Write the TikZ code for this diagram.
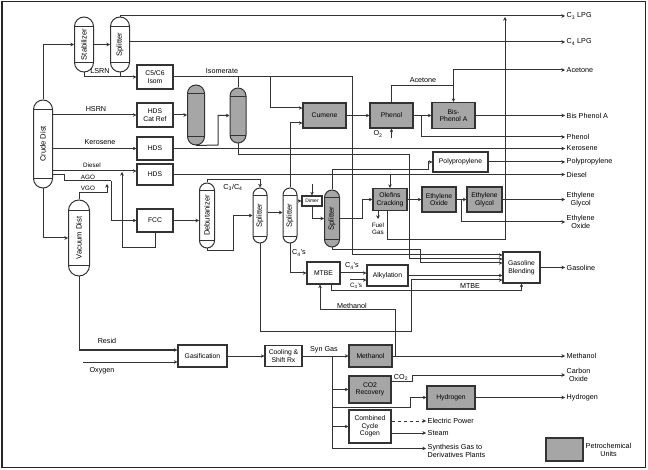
\documentclass[tikz,border=0pt]{standalone}
\usepackage{fontspec}
\usepackage{graphicx}
\setmainfont{Liberation Sans}
\usetikzlibrary{arrows.meta,calc}

% vessel: name, centre x, top y, bottom y, width, fill, label
\newcommand\vsl[7]{%
  \node[vessel, fill=#6, rounded corners={#5*0.5pt}, minimum width=#5pt,
        minimum height={(#4-#3)*1pt}, inner sep=0pt] (#1) at (#2,{(#3+#4)/2}) {\rotatebox{90}{#7}};
  \draw[black!80, line width=0.5pt] ({#2-#5/2},{#3+#5/2}) -- ({#2+#5/2},{#3+#5/2})
        ({#2-#5/2},{#4-#5/2}) -- ({#2+#5/2},{#4-#5/2});
}

\begin{document}
\begin{tikzpicture}[x=1pt,y=-1pt,
  font=\fontsize{7.2}{8}\selectfont,
  flow/.style={draw=black!80, line width=1pt},
  arr/.style={flow,-{Stealth[length=3.6pt,width=3.6pt]}},
  unit/.style={draw=black!80, line width=1.1pt, fill=white, align=center, inner sep=1pt,
               font=\fontsize{6.8}{7.6}\selectfont},
  petro/.style={unit, fill=black!35},
  vessel/.style={draw=black!80, line width=1pt, font=\fontsize{7.6}{8}\selectfont},
  outlbl/.style={anchor=west, align=center, inner sep=1.5pt},
  lbl/.style={inner sep=0.5pt, align=center},
  small/.style={lbl, font=\fontsize{6.3}{7}\selectfont},
]
\useasboundingbox (0,0) rectangle (648,470);
\draw[line width=1.3pt, black!85] (2,1.5) rectangle (645.5,467.5);

% ---------- columns ----------
\vsl{stab}{84}{17}{72}{19}{white}{Stabilizer}
\vsl{split}{120}{17}{72}{19}{white}{Splitter}
\vsl{crude}{43}{100}{188}{19}{white}{Crude Dist}
\vsl{vac}{79}{200}{276}{21}{white}{Vacuum Dist}
\vsl{va}{196}{85}{145}{17}{black!35}{}
\vsl{vb}{238}{88}{143}{16}{black!35}{}
\vsl{d1}{207}{183}{248}{15}{white}{Debutanizer}
\vsl{s1}{260}{188}{243}{14}{white}{Splitter}
\vsl{s2}{290}{188}{243}{14}{white}{Splitter}
\vsl{g1}{332}{190}{247}{15}{black!35}{Splitter}

% ---------- process units ----------
\node[unit, minimum width=36pt, minimum height=24pt] (isom)  at (155,77)    {C5/C6\\Isom};
\node[unit, minimum width=36pt, minimum height=24pt] (hdscr) at (155,115)   {HDS\\Cat Ref};
\node[unit, minimum width=36pt, minimum height=23pt] (hdsk)  at (155,148.5) {HDS};
\node[unit, minimum width=36pt, minimum height=21pt] (hdsd)  at (155,174.5) {HDS};
\node[unit, minimum width=36pt, minimum height=23pt] (fcc)   at (155,220.5) {FCC};
\node[petro, minimum width=43pt, minimum height=25pt] (cumene) at (324.5,115.5) {Cumene};
\node[petro, minimum width=43pt, minimum height=25pt] (phenol) at (391.5,115.5) {Phenol};
\node[petro, minimum width=43pt, minimum height=26pt] (bpa)    at (453.5,115.5) {Bis-\\Phenol A};
\node[unit, minimum width=55pt, minimum height=20pt] (pp)     at (460.5,162)   {Polypropylene};
\node[petro, minimum width=34pt, minimum height=22pt] (olef)   at (390,199.5)   {Olefins\\Cracking};
\node[petro, minimum width=34pt, minimum height=25pt] (eo)     at (439,199.5)   {Ethylene\\Oxide};
\node[petro, minimum width=35pt, minimum height=25pt] (eg)     at (484.5,199.5) {Ethylene\\Glycol};
\node[unit, minimum width=20pt, minimum height=10pt, font=\fontsize{5}{5.5}\selectfont] (sb) at (312,201) {Dimer};
\node[unit, minimum width=33pt, minimum height=22pt] (mtbe)   at (323.5,273)   {MTBE};
\node[unit, minimum width=41pt, minimum height=21pt] (alky)   at (387.5,275.5) {Alkylation};
\node[unit, minimum width=37pt, minimum height=31pt] (gb)     at (521.5,267.5) {Gasoline\\Blending};
\node[unit, minimum width=49pt, minimum height=22pt] (gasif)  at (202.5,356)   {Gasification};
\node[unit, minimum width=37pt, minimum height=21pt] (cool)   at (283.5,356)   {Cooling \&\\Shift Rx};
\node[petro, minimum width=43pt, minimum height=22pt] (meth)   at (370.5,356)   {Methanol};
\node[petro, minimum width=42pt, minimum height=27pt] (co2)    at (370,389.5)   {CO2\\Recovery};
\node[petro, minimum width=48pt, minimum height=23pt] (hyd)    at (451,397.5)   {Hydrogen};
\node[unit, minimum width=42pt, minimum height=33pt] (ccc)    at (370,426.5)   {Combined\\Cycle\\Cogen};

% ---------- product labels ----------
\node[outlbl] (oc3)  at (565,16)    {C\textsubscript{3} LPG};
\node[outlbl] (oc4)  at (565,42)    {C\textsubscript{4} LPG};
\node[outlbl] (oace) at (565,70)    {Acetone};
\node[outlbl] (obpa) at (565,115.5) {Bis Phenol A};
\node[outlbl] (ophe) at (565,137)   {Phenol};
\node[outlbl] (oker) at (565,148.5) {Kerosene};
\node[outlbl] (opp)  at (565,162)   {Polypropylene};
\node[outlbl] (odie) at (565,174.5) {Diesel};
\node[outlbl] (oeg)  at (565,199.5) {Ethylene\\Glycol};
\node[outlbl] (oeo)  at (565,222)   {Ethylene\\Oxide};
\node[outlbl] (ogas) at (565,267.5) {Gasoline};
\node[outlbl] (ometh) at (565,356)  {Methanol};
\node[outlbl] (oco)  at (565,375)   {Carbon\\Oxide};
\node[outlbl] (ohyd) at (565,397.5) {Hydrogen};
\node[outlbl, align=left] (oep)  at (426,421)   {Electric Power};
\node[outlbl, align=left] (ost)  at (426,433)   {Steam};
\node[outlbl, anchor=north west, align=left] (osg) at (426,443) {Synthesis Gas to\\Derivatives Plants};
\coordinate (osgin) at (426,448.5);

% ---------- stream labels ----------
\node[lbl] (lsrn) at (100,71)  {LSRN};
\node[lbl] (lisom) at (222,71) {Isomerate};
\node[lbl] (lhsrn) at (96,109) {HSRN};
\node[lbl] (lker) at (100,142) {Kerosene};
\node[small] (ldie) at (92,165.5)  {Diesel};
\node[small] (lago) at (88,177.8) {AGO};
\node[small] (lvgo) at (88,188)  {VGO};
\node[lbl] (lc34) at (233,187) {C\textsubscript{3}/C\textsubscript{4}};
\node[lbl] (lc4a) at (299,253) {C\textsubscript{4}'s};
\node[lbl] (lc4b) at (352,266) {C\textsubscript{4}'s};
\node[small] (lc3)  at (356,285.5) {C\textsubscript{3}'s};
\node[small] (lfg)  at (378,229) {Fuel\\Gas};
\node[lbl] (lace) at (423,80.5)  {Acetone};
\node[lbl] (lo2)  at (378,134) {O\textsubscript{2}};
\node[lbl] (lmtbe) at (470,286.5) {MTBE};
\node[lbl] (lmeth) at (352,305.5) {Methanol};
\node[lbl] (lres) at (107,340.5) {Resid};
\node[lbl] (loxy) at (102,370.5) {Oxygen};
\node[lbl] (lsyn) at (324,349.5) {Syn Gas};
\node[lbl] (lco2) at (401,377.5) {CO\textsubscript{2}};

% ---------- crude and light ends ----------
\draw[arr] (crude.north) |- (stab.west);
\draw[arr] (stab.east) -- (split.west);
\draw[arr] (split.north) |- (oc3.west);
\draw[arr] (split.east |- oc4.west) -- (oc4.west);
\draw[arr] (stab.south) |- (isom.west);
\draw[flow] (split.south) -- (split.south |- isom.west);
\draw[arr] (isom.east) -| (352,255) -- ([yshift=12.5pt]gb.west);
\draw[flow] (vb.north) -- (vb.north |- isom.east);
\draw[arr] (270,77) |- ([yshift=7.5pt]cumene.west);
\draw[arr] (s2.north) |- ([yshift=-7.5pt]cumene.west);

\draw[arr] (crude.east |- hdscr.west) -- (hdscr.west);
\draw[arr] (hdscr.east) -- (va.west);
\draw[arr] (va.south) -- (218,145) |- (vb.west);
\draw[arr] (crude.east |- hdsk.west) -- (hdsk.west);
\draw[arr] (hdsk.east) -- (oker.west);
\draw[arr] (crude.east |- 0,171) -- ([yshift=3.5pt]hdsd.west);
\draw[arr] (hdsd.east) -- (odie.west);
\draw[flow] (crude.east |- 0,174.5) -- (64,174.5) |- (111,181);
\draw[arr] (111,181) |- (fcc.west);
\draw[arr] (vac.north) |- (107,193) -- (107,184);
\draw[arr] (fcc.south) |- (122,248) -- (122,172);
\draw[arr] (fcc.east) -- (fcc.east -| d1.west);
\draw[arr] (crude.south) |- (vac.west);

% ---------- reformate, olefins, aromatics ----------
\draw[arr] (vb.south) |- (409,155) |- ([yshift=8.5pt]gb.west);
\draw[arr] (d1.north) |- ([yshift=8pt]s1.north) -- (s1.north);
\draw[arr] (d1.south) |- (233,251) |- (s1.west);
\draw[arr] ([yshift=3pt]s1.east) -- ([yshift=3pt]s1.east -| s2.west);
\draw[arr] (s1.south) |- (411,332) |- ([yshift=-12.5pt]gb.west);
\draw[arr] (s2.south) |- (mtbe.west);
\draw[arr] (s2.east |- sb.west) -- (sb.west);
\draw[arr] (sb.south) |- (g1.west);
\coordinate (sbin) at (312,184);
\draw[arr] (sbin) -- (sb.north);
\draw[arr] (g1.north) |- (428,170) |- (pp.west);
\draw[arr] (g1.south) |- (420,250) |- ([yshift=4.5pt]gb.west);
\draw[arr] (g1.east) -- (362,218.5) |- (olef.west);
\draw[arr] (olef.north |- hdsd.east) -- (olef.north);
\draw[arr] (olef.east) -- (eo.west);
\coordinate (fgout) at (378,219);
\draw[arr] (olef.south -| fgout) -- (fgout);
\draw[arr] ([xshift=-3pt]olef.south) |- (505,240) -- (505,17);
\draw[arr] (eo.east) -- (eg.west);
\draw[arr] (461,199.5) |- (oeo.west);
\draw[arr] (eg.east) -- (oeg.west);
\draw[arr] (pp.east) -- (opp.west);

\draw[arr] (cumene.east) -- (phenol.west);
\draw[arr] (phenol.east) -- (bpa.west);
\draw[arr] (421,115.5) |- (ophe.west);
\draw[arr] (phenol.north) |- (bpa.north |- 0,86) -- (bpa.north);
\draw[arr] (bpa.north |- 0,86) |- (oace.west);
\coordinate (o2in) at (391.5,138);
\draw[arr] (o2in) -- (phenol.south);
\draw[arr] (bpa.east) -- (obpa.west);

% ---------- gasoline pool ----------
\draw[arr] (mtbe.east) -- (mtbe.east -| alky.west);
\coordinate (c3in) at (350,280);
\draw[arr] (c3in) -- (c3in -| alky.west);
\draw[arr] (alky.east) -- (alky.east -| gb.west);
\draw[arr] ([xshift=8pt]mtbe.south) |- (gb.south |- 0,291) -- (gb.south);
\draw[arr] (gb.east) -- (ogas.west);

% ---------- residue gasification ----------
\draw[arr] (vac.south) |- ([yshift=6pt]gasif.west);
\coordinate (oxin) at (83,362);
\draw[arr] (oxin) -- ([yshift=-6pt]gasif.west);
\draw[arr] (gasif.east) -- (cool.west);
\draw[arr] (cool.east) -- (meth.west);
\draw[flow] (332,356) -- (332,448.5);
\draw[arr] (332,448.5) -- (osgin);
\draw[arr] (332,389.5) -- (co2.west);
\draw[arr] (332,426.5) -- (ccc.west);
\draw[arr] (332,407) -- (410,407) |- (hyd.west);
\draw[arr] (meth.east) -- (ometh.west);
\draw[arr] (395,356) -- (395,310) -| ([xshift=-3.5pt]mtbe.south);
\draw[arr] ([yshift=8pt]co2.east) -- (412,381.5) |- (oco.west);
\draw[arr] (hyd.east) -- (ohyd.west);
\draw[arr, dashed] ([yshift=5.5pt]ccc.east) -- (oep.west);
\draw[arr] ([yshift=-6.5pt]ccc.east) -- (ost.west);

% ---------- legend ----------
\node[petro, minimum width=37pt, minimum height=23pt] (leg) at (564.5,449.5) {};
\node[lbl, anchor=west] (legt) at (585,449.5) {Petrochemical\\Units};
\end{tikzpicture}
\end{document}
